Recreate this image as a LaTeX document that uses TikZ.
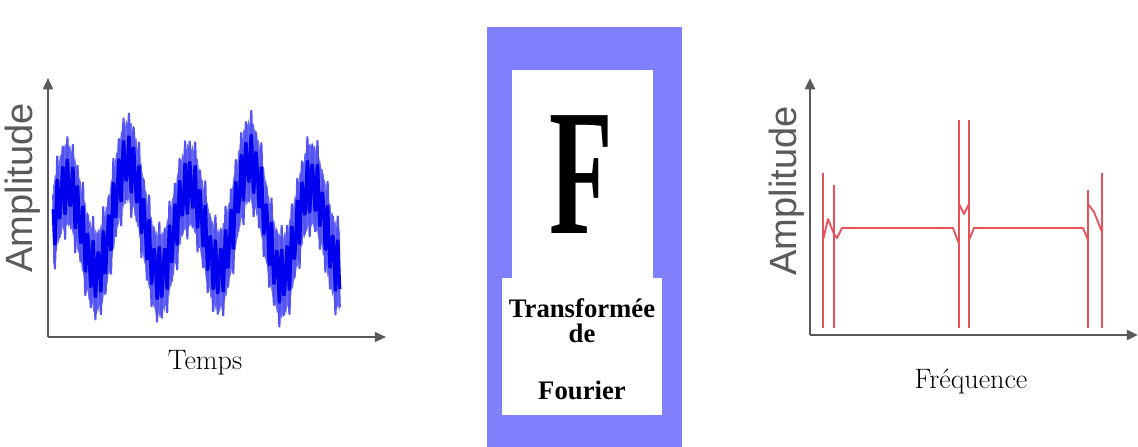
\documentclass[tikz,border=0pt]{standalone}
\usepackage{fontspec}
\usepackage{graphicx}
\usetikzlibrary{arrows.meta}
\newfontfamily\arialfont{Liberation Sans}
\newfontfamily\timesfont{Liberation Serif}
\definecolor{csignal}{HTML}{0000F0}
\definecolor{csiglight}{HTML}{6868F2}
\definecolor{cspectre}{HTML}{E8505A}
\definecolor{cframe}{HTML}{8080FF}
\definecolor{caxis}{HTML}{5A5A5A}
\newcommand{\px}{0.025}
% slow part of the signal
\newcommand{\slow}{223 - 50*cos(5.9016*(\x-67)) - 12*cos(3*(\x-125))}

\begin{document}
\begin{tikzpicture}[x=\px cm, y=-\px cm,
    axis/.style={draw=caxis, line width=#1, -{Triangle[length=8pt, width=7pt]}},
    ampl/.style={font=\arialfont\fontsize{27}{30}\selectfont, text=caxis, rotate=90, inner sep=0pt},
    xlbl/.style={font=\fontsize{20}{24}\selectfont, inner sep=0pt},
    fourier/.style={font=\timesfont\bfseries\fontsize{19}{22}\selectfont, inner sep=0pt},
    spike/.style={draw=cspectre, line width=1.3pt},
]

% Page frame (pixel units, y downwards)
\useasboundingbox[fill=white] (0,0) rectangle (1138,447);

% --- Time domain ---
\coordinate (lo) at (48,337);
\coordinate (ltop) at (48,78);
\coordinate (lright) at (386,337);
\draw[axis=1.4pt] (lo) -- (ltop);
\draw[axis=1.4pt] (lo) -- (lright);

% signal: light envelope, then dense ripple on top
\fill[csiglight] plot[domain=53:340, samples=300]
        (\x, {\slow - 34 - 9*abs(sin(70.588*mod(\x,5.1)))})
    -- plot[domain=340:53, samples=300]
        (\x, {\slow + 34 + 9*abs(sin(109.1*mod(\x,3.3)))}) -- cycle;
\draw[csiglight!80!blue, line width=1.3pt, line join=bevel] plot[domain=53:340, samples=900]
    (\x, {\slow - 46*sin(70.588*mod(\x,5.1)) - 8*sin(109.1*mod(\x,3.3))});
\draw[csignal, line width=2.2pt, line join=bevel] plot[domain=53:340, samples=900]
    (\x, {\slow - 24*sin(70.588*mod(\x,5.1)) - 5*sin(109.1*mod(\x,3.3))});

\node[ampl] (amplL) at (23,188) {Amplitude};
\node[xlbl] (temps) at (205,363) {Temps};

% --- Transform block ---
\fill[cframe] (487,27) rectangle (682,447);
\fill[white] (512,70) rectangle (653,279);
\fill[white] (502,278) rectangle (662,415);
\node[inner sep=0pt, font=\timesfont\bfseries\fontsize{74}{80}\selectfont] (bigF) at (581,175) {\scalebox{1}[1.73]{F}};
\node[fourier] (tf1) at (582,308) {Transformée};
\node[fourier] (tf2) at (582,333) {de};
\node[fourier] (tf3) at (582,390) {Fourier};

% --- Frequency domain ---
\coordinate (ro) at (810,335);
\coordinate (rtop) at (810,78);
\coordinate (rright) at (1138,335);
\draw[axis=2pt] (ro) -- (rtop);
\draw[axis=2pt] (ro) -- (rright);

% spectrum lines
\foreach \sx/\sy in {823/173, 834/185, 959/120, 969/120, 1088/190, 1102/173} {
    \draw[spike] (\sx,328) -- (\sx,\sy);
}
\draw[spike, line join=round] (823,240) -- (828,219) -- (834,234) -- (837,238) -- (842,228)
    -- (953,228) -- (959,244);
\draw[spike, line join=round] (959,204) -- (964,214) -- (969,204);
\draw[spike, line join=round] (969,240) -- (974,228) -- (1083,228) -- (1088,240);
\draw[spike, line join=round] (1088,204) -- (1094,212) -- (1102,232);

\node[ampl] (amplR) at (787,191) {Amplitude};
\node[inner sep=0pt, font=\fontsize{20}{24}\selectfont\addfontfeature{LetterSpace=9}] (freq) at (971,381) {Fréquence};

\end{tikzpicture}
\end{document}
